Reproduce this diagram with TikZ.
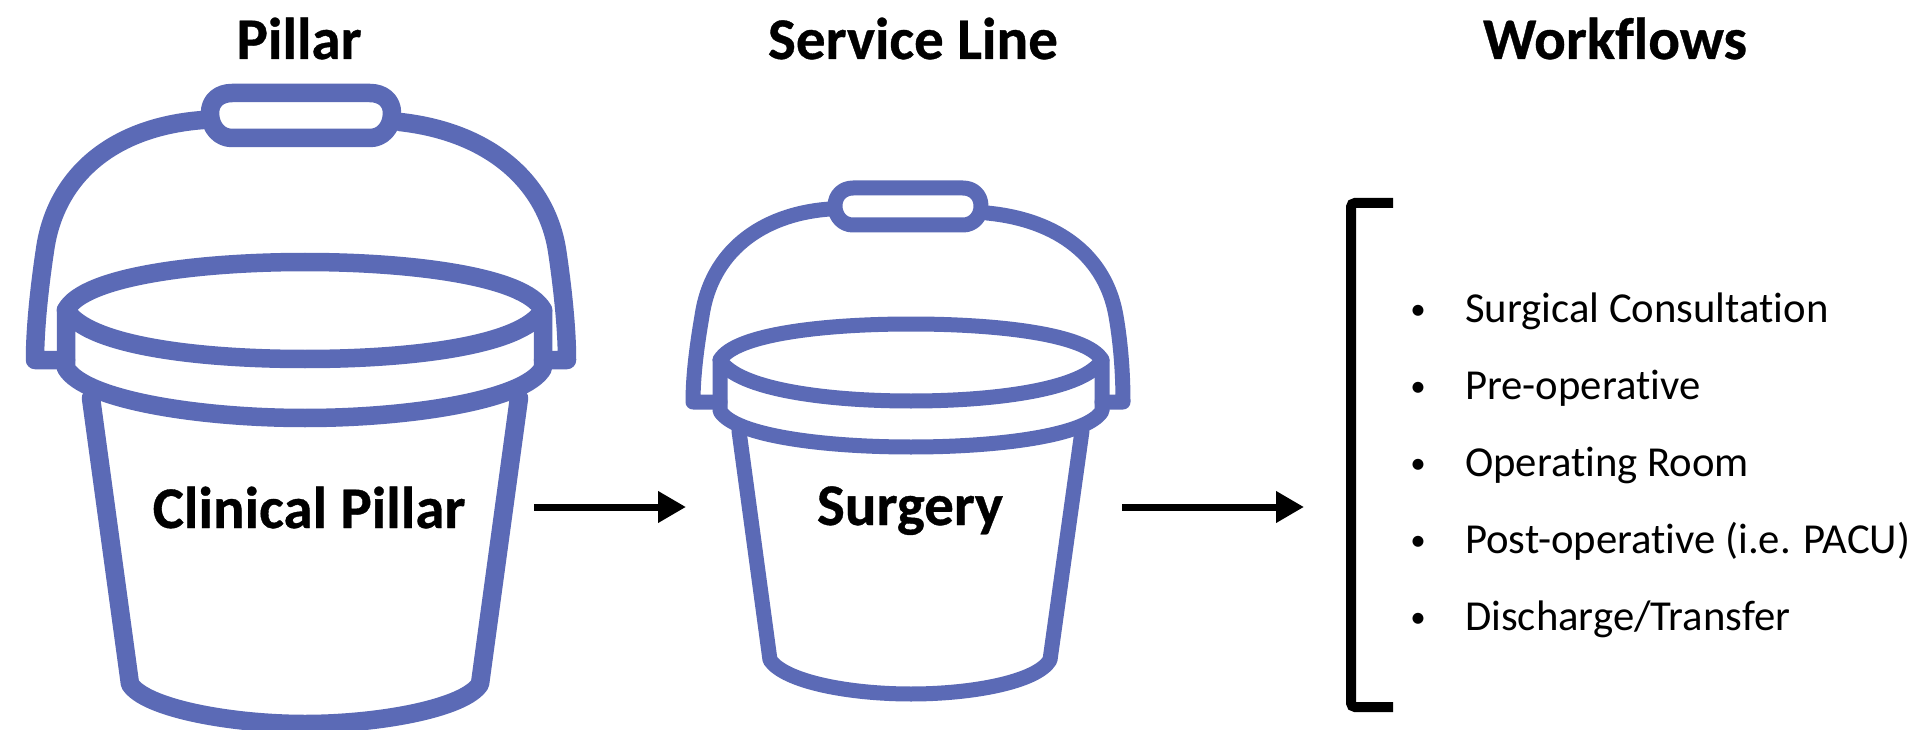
\documentclass[tikz,border=0pt]{standalone}
\usepackage{fontspec}
\setmainfont[Ligatures=CommonOff,BoldFeatures={FakeBold=0.6}]{Carlito}
\usetikzlibrary{arrows.meta}
\definecolor{bucketblue}{HTML}{5B6AB6}
\tikzset{
  bucketline/.style={draw=bucketblue,line width=18.5pt,line join=round,line cap=round},
  smallbucketline/.style={draw=bucketblue,line width=15pt,line join=round,line cap=round},
  heading/.style={font=\fontsize{59}{59}\selectfont\bfseries,anchor=base,inner sep=0pt},
  itemtext/.style={font=\fontsize{42.7}{43}\selectfont,anchor=base west,inner sep=0pt},
  dotmark/.style={font=\fontsize{31}{31}\selectfont,anchor=base,inner sep=0pt},
  flowarrow/.style={draw=black,line width=7pt,-{Triangle[length=28pt,width=30pt]}},
  bracketline/.style={draw=black,line width=10pt,rounded corners=4pt}
}
\begin{document}
\begin{tikzpicture}[x=1pt,y=-1pt]
\useasboundingbox (0,0) rectangle (1915,730);
\fill[white] (0,0) rectangle (1915,730);

% large bucket
\draw[bucketline] (210,113) .. controls (210,100) and (220,93) .. (232,93) -- (370,93) .. controls (382,93) and (392,100) .. (392,113) .. controls (392,128) and (382,138) .. (370,138) -- (232,138) .. controls (220,138) and (210,128) .. (210,113) -- cycle;
\draw[bucketline] (203,120) .. controls (110,127) and (55,178) .. (45,250) .. controls (39,290) and (35,330) .. (35,360) -- (66,360);
\draw[bucketline] (400,122) .. controls (490,132) and (546,182) .. (557,250) .. controls (563,290) and (567,330) .. (567,360) -- (543,360);
\draw[bucketline] (66,310) .. controls (84,276) and (200,262) .. (305,262) .. controls (410,262) and (525,276) .. (543,310) .. controls (522,346) and (410,359) .. (305,359) .. controls (200,359) and (88,346) .. (66,310) -- cycle;
\draw[bucketline] (66,310) -- (66,368) .. controls (84,400) and (200,418) .. (305,418) .. controls (410,418) and (526,400) .. (543,368) -- (543,310);
\draw[bucketline] (91,398) -- (130,684) .. controls (145,708) and (230,724) .. (305,724) .. controls (380,724) and (465,708) .. (480,684) -- (519,398);

% small bucket
\draw[smallbucketline] (835,206) .. controls (835,195) and (843,188) .. (853,188) -- (963,188) .. controls (973,188) and (981,195) .. (981,206) .. controls (981,217) and (973,225) .. (963,225) -- (853,225) .. controls (843,225) and (835,217) .. (835,206) -- cycle;
\draw[smallbucketline] (830,209) .. controls (760,214) and (711,253) .. (702,316) .. controls (697,345) and (693,375) .. (693,402) -- (720,402);
\draw[smallbucketline] (987,213) .. controls (1060,220) and (1106,258) .. (1116,316) .. controls (1121,345) and (1123,375) .. (1123,402) -- (1102,402);
\draw[smallbucketline] (720,360) .. controls (735,334) and (825,324) .. (911,324) .. controls (997,324) and (1087,334) .. (1102,360) .. controls (1085,389) and (997,401) .. (911,401) .. controls (825,401) and (737,389) .. (720,360) -- cycle;
\draw[smallbucketline] (720,360) -- (720,411) .. controls (735,436) and (825,447) .. (911,447) .. controls (997,447) and (1087,436) .. (1102,411) -- (1102,360);
\draw[smallbucketline] (739,431) -- (770,660) .. controls (785,682) and (850,694) .. (911,694) .. controls (972,694) and (1037,682) .. (1050,660) -- (1082,431);

% headings
\node[heading] (pillar) at (299,59) {Pillar};
\node[heading] (service) at (913,59) {Service Line};
\node[heading] (workflows) at (1615,59) {Workflows};
\node[heading] (clinical) at (309,528) {Clinical Pillar};
\node[heading] (surgery) at (910,525) {Surgery};

% arrows
\coordinate (a1s) at (534,507);
\coordinate (a1e) at (686,507);
\coordinate (a2s) at (1122,507);
\coordinate (a2e) at (1304,507);
\draw[flowarrow] (a1s) -- (a1e);
\draw[flowarrow] (a2s) -- (a2e);

% bracket
\coordinate (b1) at (1393,203);
\coordinate (b2) at (1351,203);
\coordinate (b3) at (1351,707);
\coordinate (b4) at (1393,707);
\draw[bracketline] (b1) -- (b2) -- (b3) -- (b4);

% list
\node[dotmark] (d1) at (1418,319) {•};
\node[dotmark] (d2) at (1418,396) {•};
\node[dotmark] (d3) at (1418,473) {•};
\node[dotmark] (d4) at (1418,550) {•};
\node[dotmark] (d5) at (1418,627) {•};
\node[itemtext] (i1) at (1465,322) {Surgical Consultation};
\node[itemtext] (i2) at (1465,399) {Pre-operative};
\node[itemtext] (i3) at (1465,476) {Operating Room};
\node[itemtext] (i4) at (1465,553) {Post-operative (i.e. PACU)};
\node[itemtext] (i5) at (1465,630) {Discharge/Transfer};
\end{tikzpicture}
\end{document}
